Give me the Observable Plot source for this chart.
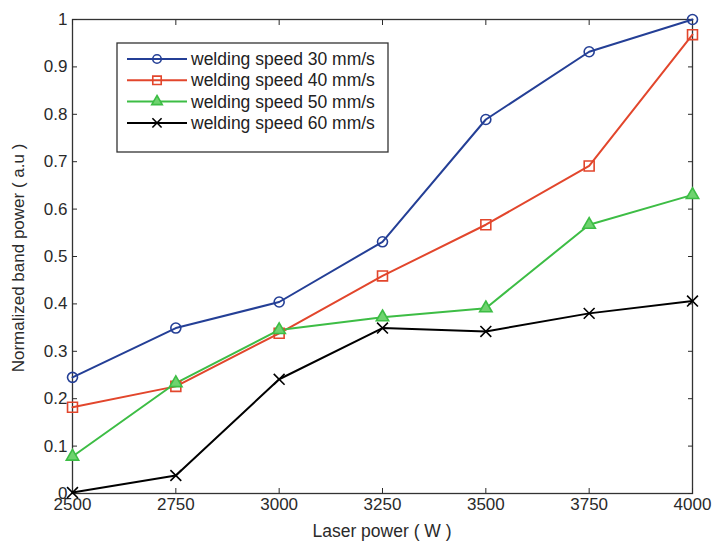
<!DOCTYPE html>
<html>
<head>
<meta charset="utf-8">
<script src="https://cdn.jsdelivr.net/npm/d3@7"></script>
<script src="https://cdn.jsdelivr.net/npm/@observablehq/plot@0.6"></script>
<style>
  body { margin: 0; background: white; }
  #wrap { position: relative; width: 717px; height: 545px; }
  #legend { position: absolute; left: 0; top: 0; }
</style>
</head>
<body>
<div id="wrap"></div>
<script>
const powers = [2500, 2750, 3000, 3250, 3500, 3750, 4000];
const yTicks = [0, 0.1, 0.2, 0.3, 0.4, 0.5, 0.6, 0.7, 0.8, 0.9, 1];
const seriesNames = ["welding speed 30 mm/s", "welding speed 40 mm/s", "welding speed 50 mm/s", "welding speed 60 mm/s"];
const speed30 = [0.245, 0.349, 0.404, 0.531, 0.789, 0.932, 1.0];
const speed40 = [0.182, 0.226, 0.338, 0.459, 0.567, 0.691, 0.968];
const speed50 = [0.078, 0.233, 0.345, 0.372, 0.391, 0.567, 0.630];
const speed60 = [0.002, 0.038, 0.241, 0.349, 0.342, 0.380, 0.406];
const colors = ["#243f96", "#e2462c", "#3dbd45", "#000000"];
const symbols = ["circle", "square", "triangle", "times"];
const fills = ["none", "none", "#6fd36f", "none"];
const sizes = [5, 5.6, 4.6, 5];

const allSeries = [speed30, speed40, speed50, speed60];
const data = allSeries.flatMap((vals, i) => vals.map((v, j) => ({x: powers[j], y: v, s: i})));

const FONT = "'Liberation Sans', Arial, sans-serif";

const chart = Plot.plot({
  width: 717,
  height: 545,
  marginLeft: 72,
  marginRight: 25,
  marginTop: 19,
  marginBottom: 52,
  style: {fontFamily: FONT, fontSize: "17px", color: "#2a2a2a", background: "white", overflow: "visible"},
  x: {domain: [2500, 4000]},
  y: {domain: [0, 1]},
  marks: [
    Plot.frame({stroke: "#333", strokeWidth: 1.3}),
    Plot.axisX({ticks: powers, tickFormat: d => String(d), tickSize: -5, tickPadding: 9, label: null}),
    Plot.axisX({anchor: "top", ticks: powers, tickSize: -5, text: null, label: null}),
    Plot.axisY({ticks: yTicks, tickFormat: d => d === 0 ? "0" : d === 1 ? "1" : d.toFixed(1), tickSize: -5, tickPadding: 10, label: null}),
    Plot.axisY({anchor: "right", ticks: yTicks, tickSize: -5, text: null, label: null}),
    Plot.line(data, {x: "x", y: "y", z: "s", stroke: d => colors[d.s], strokeWidth: 2}),
    ...allSeries.map((_, i) => Plot.dot(data.filter(d => d.s === i), {x: "x", y: "y", symbol: symbols[i], stroke: colors[i], fill: fills[i], r: sizes[i], strokeWidth: 1.6}))
  ]
});

const wrap = document.getElementById("wrap");
wrap.appendChild(chart);

// Overlay: axis titles and in-plot legend
const lg = d3.create("svg").attr("id", "legend").attr("width", 717).attr("height", 545)
  .style("font-family", FONT).style("font-size", "17.5px");
lg.append("text").attr("x", 382).attr("y", 531).attr("dy", "0.35em").attr("text-anchor", "middle")
  .attr("fill", "#2a2a2a").text("Laser power ( W )");
lg.append("text").attr("transform", "translate(18,258) rotate(-90)").attr("dy", "0.35em").attr("text-anchor", "middle")
  .attr("fill", "#2a2a2a").style("font-size", "17px").text("Normalized band power ( a.u )");
lg.append("rect").attr("x", 117).attr("y", 43).attr("width", 271).attr("height", 109)
  .attr("fill", "white").attr("stroke", "#333").attr("stroke-width", 1.3);
const symGen = {
  circle: r => d3.symbol(d3.symbolCircle, Math.PI * r * r)(),
  square: r => d3.symbol(d3.symbolSquare, Math.PI * r * r)(),
  triangle: r => d3.symbol(d3.symbolTriangle, Math.PI * r * r)(),
  times: r => d3.symbol(d3.symbolTimes, Math.PI * r * r)()
};
seriesNames.forEach((name, i) => {
  const y = 59 + i * 21.3;
  lg.append("line").attr("x1", 127).attr("x2", 187).attr("y1", y).attr("y2", y)
    .attr("stroke", colors[i]).attr("stroke-width", 2);
  lg.append("path").attr("d", symGen[symbols[i]](sizes[i] * 0.85)).attr("transform", `translate(157,${y})`)
    .attr("stroke", colors[i]).attr("fill", fills[i]).attr("stroke-width", 1.6);
  lg.append("text").attr("x", 191).attr("y", y).attr("dy", "0.35em").attr("fill", "#222").text(name);
});
wrap.appendChild(lg.node());
</script>
</body>
</html>
